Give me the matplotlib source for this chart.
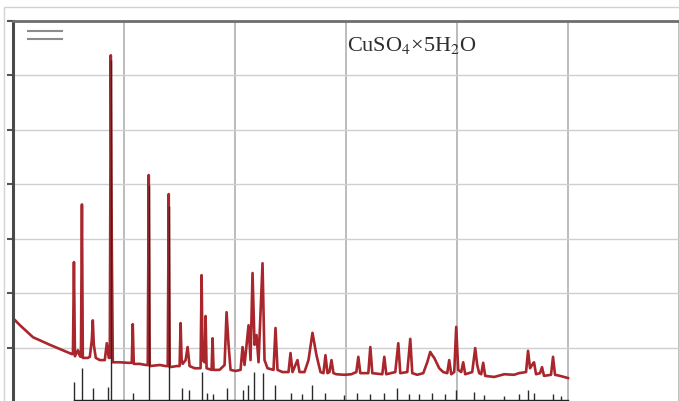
from pathlib import Path

import matplotlib.pyplot as plt
from matplotlib.lines import Line2D
from matplotlib.patches import Rectangle


OUTPUT_PATH = Path("out.png")

# measured pattern (red), 2theta [deg] / intensity [grid units]
red_two_theta = [
    10.00, 10.63, 11.80, 13.33, 14.86, 15.31, 15.40, 15.49, 15.58, 15.85,
    16.03, 16.12, 16.21, 16.29, 16.74, 16.92, 17.10, 17.19, 17.28, 17.46,
    17.82, 18.27, 18.45, 18.63, 18.72, 18.81, 18.90, 18.99, 19.62, 20.34,
    20.70, 20.79, 20.88, 21.42, 21.96, 22.14, 22.23, 22.32, 23.22, 23.76,
    23.94, 24.03, 24.12, 24.75, 25.01, 25.10, 25.19, 25.28, 25.55, 25.73,
    25.91, 26.36, 26.90, 26.99, 27.08, 27.26, 27.35, 27.44, 27.89, 27.98,
    28.07, 28.61, 29.06, 29.24, 29.42, 29.60, 30.05, 30.50, 30.68, 30.86,
    31.22, 31.40, 31.58, 31.76, 31.94, 32.12, 32.48, 32.66, 32.93, 33.47,
    33.65, 33.83, 34.28, 34.82, 35.00, 35.18, 35.45, 35.63, 35.81, 36.26,
    36.62, 36.98, 37.34, 37.70, 37.97, 38.15, 38.33, 38.51, 38.69, 38.87,
    39.13, 39.85, 40.48, 40.93, 41.11, 41.29, 42.01, 42.19, 42.37, 43.27,
    43.45, 43.63, 44.44, 44.71, 44.89, 45.52, 45.79, 45.97, 46.42, 46.96,
    47.32, 47.59, 47.77, 47.95, 48.40, 48.76, 49.12, 49.30, 49.48, 49.75,
    49.93, 50.11, 50.38, 50.56, 50.74, 51.37, 51.64, 51.82, 52.00, 52.18,
    52.36, 52.54, 53.35, 54.25, 55.14, 55.59, 56.22, 56.40, 56.58, 56.76,
    56.94, 57.12, 57.48, 57.66, 57.84, 58.47, 58.65, 58.83, 59.28, 59.64,
    60.00,
]
red_intensity = [
    1.54, 1.41, 1.19, 1.05, 0.92, 0.88, 0.88, 2.57, 0.84, 0.95,
    0.84, 0.83, 3.63, 0.81, 0.81, 0.83, 1.14, 1.50, 1.05, 0.81,
    0.77, 0.77, 1.08, 0.81, 0.81, 6.37, 2.88, 0.73, 0.73, 0.72,
    0.72, 1.43, 0.70, 0.70, 0.68, 0.68, 4.17, 0.66, 0.68, 0.66,
    0.66, 3.82, 0.64, 0.66, 0.66, 1.45, 0.77, 0.70, 0.77, 1.01,
    0.66, 0.62, 0.62, 2.33, 0.77, 0.73, 1.58, 0.62, 0.59, 1.17,
    0.59, 0.59, 0.68, 1.65, 1.05, 0.59, 0.57, 0.59, 1.01, 0.68,
    1.41, 0.77, 2.37, 1.05, 1.23, 0.73, 2.55, 0.77, 0.62, 0.59,
    1.36, 0.59, 0.55, 0.55, 0.90, 0.55, 0.68, 0.77, 0.55, 0.55,
    0.77, 1.27, 0.86, 0.55, 0.53, 0.86, 0.53, 0.55, 0.77, 0.53,
    0.51, 0.50, 0.51, 0.55, 0.83, 0.53, 0.53, 1.01, 0.53, 0.51,
    0.83, 0.51, 0.55, 1.08, 0.53, 0.55, 1.16, 0.53, 0.50, 0.53,
    0.73, 0.92, 0.86, 0.81, 0.62, 0.55, 0.53, 0.77, 0.51, 0.55,
    1.38, 0.59, 0.55, 0.73, 0.51, 0.55, 0.99, 0.68, 0.53, 0.51,
    0.72, 0.48, 0.46, 0.51, 0.50, 0.53, 0.55, 0.94, 0.62, 0.68,
    0.73, 0.51, 0.53, 0.64, 0.48, 0.50, 0.83, 0.50, 0.48, 0.46,
    0.44,
]

# reference pattern (black), stick positions and heights
ref_two_theta = [
    15.49, 16.21, 17.19, 18.54, 18.81, 20.79, 22.23, 24.03, 25.19, 25.82,
    26.99, 27.44, 27.98, 29.24, 30.68, 31.13, 31.67, 32.48, 33.56, 35.09,
    36.08, 36.98, 38.15, 39.85, 41.02, 42.19, 43.45, 44.62, 45.70, 46.60,
    47.77, 48.94, 49.93, 51.55, 52.45, 54.25, 55.59, 56.40, 56.94, 58.65,
    59.37,
]
ref_intensity = [
    0.37, 0.62, 0.26, 0.28, 6.28, 0.17, 3.98, 3.61, 0.26, 0.22,
    0.55, 0.17, 0.15, 0.26, 0.22, 0.31, 0.55, 0.53, 0.31, 0.17,
    0.15, 0.31, 0.17, 0.13, 0.17, 0.15, 0.17, 0.26, 0.15, 0.15,
    0.17, 0.15, 0.22, 0.18, 0.13, 0.11, 0.15, 0.22, 0.17, 0.15,
    0.11,
]
ref_baseline = 0.04

x_grid = [20, 30, 40, 50, 60, 70]
y_grid = [1, 2, 3, 4, 5, 6, 7]
sample_label = "CuSO$_4$×5H$_2$O"


def main() -> None:
    plt.rcParams["mathtext.fontset"] = "stix"

    fig = plt.figure(figsize=(6.79, 4.01), dpi=100)
    fig.patch.set_facecolor("white")

    # light outer frame of the original screenshot
    fig.add_artist(Rectangle((4 / 679, -0.02), 1.1, 0.9825 + 0.02,
                             transform=fig.transFigure, fill=False,
                             edgecolor="#d2d2d2", linewidth=1.0))

    ax = fig.add_axes([13 / 679, -1 / 401, 666 / 679, 381 / 401])
    ax.set_xlim(10, 69.89)
    ax.set_ylim(0, 7)

    ax.set_xticks(x_grid)
    ax.set_yticks(y_grid)
    ax.xaxis.grid(True, color="#b0b0b0", linewidth=1.2)
    ax.yaxis.grid(True, color="#cfcfcf", linewidth=1.0)
    ax.set_axisbelow(True)
    ax.tick_params(axis="x", length=0, labelbottom=False)
    ax.tick_params(axis="y", direction="out", length=4, width=1.5,
                   color="#555555", labelleft=False)

    for side in ("right", "bottom"):
        ax.spines[side].set_visible(False)
    ax.spines["left"].set_color("#4a4a4a")
    ax.spines["left"].set_linewidth(2.2)
    ax.spines["top"].set_color("#6e6e6e")
    ax.spines["top"].set_linewidth(2.0)

    ax.plot(red_two_theta, red_intensity, color="#a8262c", linewidth=1.9)

    ax.plot([ref_two_theta[0], 60.0], [ref_baseline, ref_baseline],
            color="#222222", linewidth=1.0)
    ax.vlines(ref_two_theta, ref_baseline, ref_intensity,
              color="#2a2a2a", linewidth=1.0)

    ax.text(40.12, 6.55, sample_label, ha="left", va="center",
            fontsize=16, family="Liberation Serif", color="#2e2e2e")

    handles = [Line2D([], [], color="#8c8c8c", linewidth=1.5),
               Line2D([], [], color="#8c8c8c", linewidth=1.5)]
    ax.legend(handles, [" ", " "], loc="upper left",
              bbox_to_anchor=(0.0225, 0.978), frameon=False, fontsize=4,
              borderpad=0, borderaxespad=0, handletextpad=0,
              handlelength=6.1, labelspacing=0.43)

    fig.savefig(OUTPUT_PATH, dpi=100)
    plt.close(fig)


if __name__ == "__main__":
    main()
